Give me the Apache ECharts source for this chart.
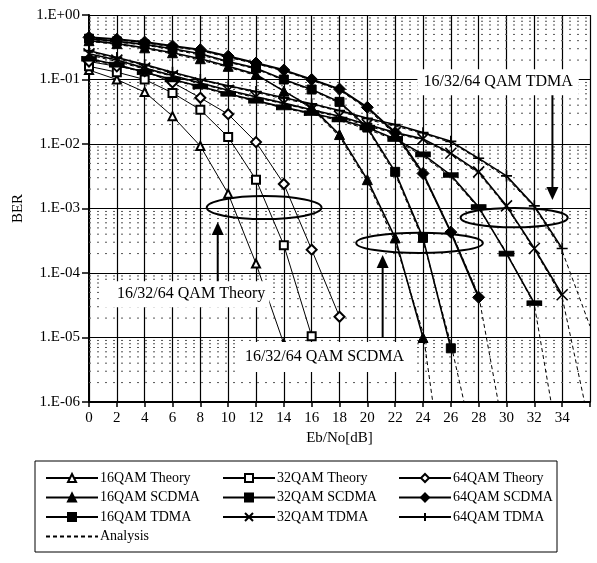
<!DOCTYPE html>
<html>
<head>
<meta charset="utf-8">
<script src="https://cdn.jsdelivr.net/npm/echarts@6/dist/echarts.min.js"></script>
<style>
  html, body { margin: 0; padding: 0; background: #fff; }
  #chart { width: 597px; height: 563px; }
</style>
</head>
<body>
<div id="chart"></div>
<script>
// Axis tick labels
const xTickLabels = ['0','2','4','6','8','10','12','14','16','18','20','22','24','26','28','30','32','34'];
const yTickLabels = ['1.E-06','1.E-05','1.E-04','1.E-03','1.E-02','1.E-01','1.E+00'];

// Eb/No grid in dB (every 2 dB from 0)
const ebno = [0,2,4,6,8,10,12,14,16,18,20,22,24,26,28,30,32,34,36];

// Theoretical BER
const ber16Theory = [0.14, 0.10, 0.064, 0.027, 0.0093, 0.0017, 1.4e-4, 8e-6];
const ber32Theory = [0.16, 0.13, 0.10, 0.062, 0.034, 0.0128, 2.8e-3, 2.7e-4, 1.05e-5];
const ber64Theory = [0.19, 0.16, 0.135, 0.09, 0.052, 0.029, 0.0107, 2.4e-3, 2.3e-4, 2.1e-5];

// Simulated BER, S-CDMA
const ber16Scdma = [0.40, 0.36, 0.31, 0.26, 0.21, 0.16, 0.12, 0.066, 0.037, 0.014, 2.8e-3, 3.5e-4, 1.0e-5];
const ber32Scdma = [0.43, 0.39, 0.35, 0.30, 0.25, 0.19, 0.15, 0.10, 0.07, 0.045, 0.018, 3.7e-3, 3.5e-4, 6.8e-6];
const ber64Scdma = [0.45, 0.42, 0.38, 0.33, 0.29, 0.23, 0.18, 0.14, 0.10, 0.071, 0.037, 0.015, 3.5e-3, 4.3e-4, 4.2e-5];

// Simulated BER, TDMA
const ber16Tdma = [0.21, 0.17, 0.13, 0.10, 0.078, 0.060, 0.047, 0.037, 0.030, 0.024, 0.018, 0.012, 6.9e-3, 3.3e-3, 1.05e-3, 2.0e-4, 3.4e-5];
const ber32Tdma = [0.25, 0.20, 0.15, 0.115, 0.088, 0.068, 0.054, 0.043, 0.034, 0.027, 0.020, 0.015, 0.012, 7.2e-3, 3.7e-3, 1.1e-3, 2.4e-4, 4.6e-5];
const ber64Tdma = [0.28, 0.22, 0.17, 0.13, 0.10, 0.080, 0.065, 0.052, 0.042, 0.033, 0.025, 0.020, 0.015, 0.011, 6.0e-3, 3.2e-3, 1.1e-3, 2.4e-4];

// Analytical BER (dashed)
const ana16Scdma = [0.39, 0.35, 0.30, 0.25, 0.20, 0.155, 0.115, 0.068, 0.035, 0.013, 2.6e-3, 3.0e-4, 1.2e-5, 1e-8];
const ana32Scdma = [0.42, 0.38, 0.34, 0.29, 0.24, 0.185, 0.145, 0.097, 0.068, 0.043, 0.017, 3.4e-3, 3.2e-4, 8e-6, 1e-7];
const ana64Scdma = [0.44, 0.41, 0.37, 0.32, 0.28, 0.22, 0.175, 0.135, 0.097, 0.068, 0.035, 0.014, 3.2e-3, 4.5e-4, 4.5e-5, 2e-7];
const ana16Tdma = [0.20, 0.165, 0.128, 0.098, 0.076, 0.058, 0.046, 0.036, 0.029, 0.023, 0.017, 0.0115, 6.5e-3, 3.1e-3, 1.0e-3, 2.1e-4, 3.2e-5, 1e-7];
const ana32Tdma = [0.24, 0.19, 0.145, 0.112, 0.086, 0.066, 0.052, 0.042, 0.033, 0.026, 0.019, 0.0145, 0.0115, 6.9e-3, 3.5e-3, 1.05e-3, 2.3e-4, 4.2e-5, 4e-7];
const ana64Tdma = [0.27, 0.21, 0.165, 0.125, 0.098, 0.078, 0.063, 0.050, 0.041, 0.032, 0.024, 0.019, 0.0145, 0.0105, 5.8e-3, 3.0e-3, 1.05e-3, 2.2e-4, 1.5e-5];

// Annotation texts
const groupLabels = ['16/32/64 QAM Theory', '16/32/64 QAM SCDMA', '16/32/64 QAM TDMA'];

const FONT = '"Liberation Serif", "Times New Roman", serif';
const BLACK = '#000';

const pairs = (ys) => ys.map((y, i) => [ebno[i], y]);

function simSeries(name, ys, symbol, symbolSize, width, extraItem) {
  return {
    name, type: 'line', data: pairs(ys),
    symbol, symbolSize,
    showAllSymbol: true,
    lineStyle: { color: BLACK, width },
    itemStyle: Object.assign({ color: BLACK, borderColor: BLACK, borderWidth: 1 }, extraItem || {}),
    emphasis: { disabled: true },
    z: 3,
    animation: false
  };
}
function anaSeries(ys) {
  return {
    name: 'Analysis', type: 'line', data: pairs(ys),
    symbol: 'none',
    lineStyle: { color: BLACK, width: 1, type: [4, 3] },
    itemStyle: { color: BLACK },
    emphasis: { disabled: true },
    z: 2,
    animation: false
  };
}

const X_PATH = 'path://M0,0L10,10M10,0L0,10';
const PLUS_PATH = 'path://M5,0L5,10M0,5L10,5';

const series = [
  simSeries('16QAM Theory', ber16Theory, 'emptyTriangle', 8, 1),
  simSeries('32QAM Theory', ber32Theory, 'emptyRect', 8, 1),
  simSeries('64QAM Theory', ber64Theory, 'emptyDiamond', 10, 1),
  simSeries('16QAM SCDMA', ber16Scdma, 'triangle', 10, 1.6),
  simSeries('32QAM SCDMA', ber32Scdma, 'rect', 9, 1.6),
  simSeries('64QAM SCDMA', ber64Scdma, 'diamond', 12, 2),
  simSeries('16QAM TDMA', ber16Tdma, 'rect', [14, 5], 1.6),
  simSeries('32QAM TDMA', ber32Tdma, X_PATH, 11, 1.6, { borderWidth: 1.6 }),
  simSeries('64QAM TDMA', ber64Tdma, PLUS_PATH, 11, 1.6, { borderWidth: 1.6 }),
  anaSeries(ana16Scdma), anaSeries(ana32Scdma), anaSeries(ana64Scdma),
  anaSeries(ana16Tdma), anaSeries(ana32Tdma), anaSeries(ana64Tdma)
];

const legendCommon = {
  orient: 'vertical', padding: 0,
  itemWidth: 52, itemHeight: 10, itemGap: 5.5,
  textStyle: { fontFamily: FONT, fontSize: 14, color: BLACK, padding: [0, 0, 0, -3] },
  inactiveColor: BLACK,
  selectedMode: false
};

const option = {
  backgroundColor: '#fff',
  animation: false,
  grid: { left: 89, right: 7, top: 15, bottom: 161, containLabel: false },
  xAxis: {
    type: 'value', min: 0, max: 36, interval: 2,
    name: 'Eb/No[dB]', nameLocation: 'middle', nameGap: 27,
    nameTextStyle: { fontFamily: FONT, fontSize: 15, color: BLACK },
    axisLine: { lineStyle: { color: BLACK, width: 2 } },
    axisTick: { show: true, length: 5, lineStyle: { color: BLACK, width: 1.5 } },
    axisLabel: {
      fontFamily: FONT, fontSize: 15, color: BLACK, margin: 9,
      formatter: (v) => xTickLabels[Math.round(v / 2)] || ''
    },
    splitLine: { show: true, lineStyle: { color: BLACK, width: 1.2 } }
  },
  yAxis: {
    type: 'log', logBase: 10, min: 1e-6, max: 1, splitNumber: 6,
    name: 'BER', nameLocation: 'middle', nameGap: 62, nameRotate: 90,
    nameTextStyle: { fontFamily: FONT, fontSize: 15, color: BLACK },
    axisLine: { show: true, lineStyle: { color: BLACK, width: 2 } },
    axisTick: { show: true, length: 7, lineStyle: { color: BLACK, width: 1.5 } },
    axisLabel: {
      fontFamily: FONT, fontSize: 15, color: BLACK, margin: 9,
      formatter: (v) => yTickLabels[Math.round(Math.log10(v)) + 6]
    },
    splitLine: { show: true, lineStyle: { color: BLACK, width: 1.2 } }
  },
  legend: [
    Object.assign({ left: 45, top: 471, data: ['16QAM Theory', '16QAM SCDMA', '16QAM TDMA', { name: 'Analysis', itemStyle: { opacity: 0 } }] }, legendCommon),
    Object.assign({ left: 222, top: 471, data: ['32QAM Theory', '32QAM SCDMA', '32QAM TDMA'] }, legendCommon),
    Object.assign({ left: 398, top: 471, data: ['64QAM Theory', '64QAM SCDMA', '64QAM TDMA'] }, legendCommon)
  ],
  series
};

const chart = echarts.init(document.getElementById('chart'), null, { renderer: 'canvas' });
chart.setOption(option);

// Pixel position of a point given in data coordinates
const px = (x, y) => chart.convertToPixel({ gridIndex: 0 }, [x, y]);

// Dotted minor grid at 2..9 x 10^k
const minorGrid = [];
for (let k = -6; k < 0; k++) {
  for (let m = 2; m <= 9; m++) {
    const a = px(0, m * Math.pow(10, k)), b = px(36, m * Math.pow(10, k));
    minorGrid.push({
      type: 'line', z: 1, silent: true,
      shape: { x1: a[0], y1: a[1], x2: b[0], y2: b[1] },
      style: { stroke: '#555', lineWidth: 1, lineDash: [2, 6] }
    });
  }
}

function ellipseFrom(x0, x1, y0, y1) {
  const a = px(x0, y0), b = px(x1, y1);
  return {
    type: 'ellipse', z: 20, silent: true,
    shape: { cx: (a[0] + b[0]) / 2, cy: (a[1] + b[1]) / 2, rx: Math.abs(b[0] - a[0]) / 2, ry: Math.abs(b[1] - a[1]) / 2 },
    style: { fill: null, stroke: BLACK, lineWidth: 2 }
  };
}
function arrowFrom(x, yFrom, yTo) {
  const a = px(x, yFrom), b = px(x, yTo);
  const dir = b[1] < a[1] ? 1 : -1; // head pointing up when 1
  const headLen = 13, headHalf = 6;
  return [
    { type: 'line', z: 20, silent: true,
      shape: { x1: a[0], y1: a[1], x2: b[0], y2: b[1] + dir * headLen },
      style: { stroke: BLACK, lineWidth: 2 } },
    { type: 'polygon', z: 20, silent: true,
      shape: { points: [[b[0], b[1]], [b[0] - headHalf, b[1] + dir * headLen], [b[0] + headHalf, b[1] + dir * headLen]] },
      style: { fill: BLACK } }
  ];
}
function labelAt(text, x, y, pad) {
  const p = px(x, y);
  return {
    type: 'text', z: 25, silent: true, x: p[0], y: p[1],
    style: {
      text, font: '16px ' + FONT, fill: BLACK,
      verticalAlign: 'middle', align: 'left',
      backgroundColor: '#fff', padding: pad
    }
  };
}

const graphics = [
  ...minorGrid,
  ellipseFrom(8.46, 16.71, 1.56e-3, 6.87e-4),
  ellipseFrom(19.2, 28.3, 4.2e-4, 2.04e-4),
  ellipseFrom(26.7, 34.4, 1.02e-3, 5.1e-4),
  ...arrowFrom(9.25, 6.5e-5, 6.2e-4),
  ...arrowFrom(21.1, 1.0e-5, 1.9e-4),
  ...arrowFrom(33.3, 0.062, 1.35e-3),
  labelAt(groupLabels[0], 1.0, 4.7e-5, [5, 4, 5, 14]),
  labelAt(groupLabels[1], 10.7, 5.0e-6, [7, 8, 7, 7]),
  labelAt(groupLabels[2], 23.6, 0.091, [5, 6, 5, 6]),
  {
    type: 'rect', z: 5, silent: true,
    shape: { x: 35, y: 461, width: 522, height: 91 },
    style: { fill: null, stroke: BLACK, lineWidth: 1 }
  }
];
chart.setOption({ graphic: graphics });
</script>
</body>
</html>
